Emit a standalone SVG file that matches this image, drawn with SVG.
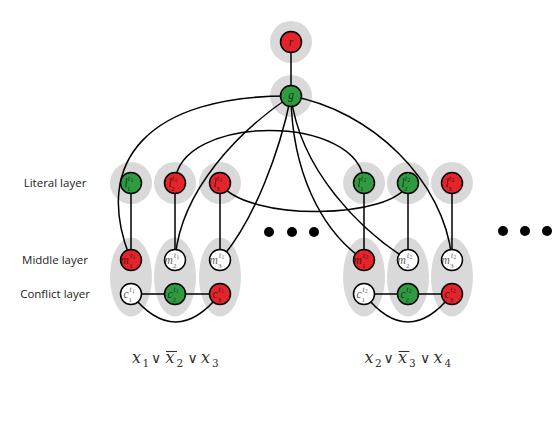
<svg xmlns="http://www.w3.org/2000/svg" width="554" height="422" viewBox="0 0 554 422">
<style>
.halo{fill:#d9d9d9}
.n{stroke:#000;stroke-width:1.5}
.red{fill:#e3242b}
.grn{fill:#2f9a3f}
.wht{fill:#fff}
.e{fill:none;stroke:#000;stroke-width:1.5}
.lb{font-family:"Liberation Serif",serif;font-style:italic;font-size:11.5px;fill:#000;fill-opacity:.68}
.s{font-size:7.5px}
.ss{font-size:5.5px;font-style:normal}
.sb{font-size:7px;font-style:normal}
.lay{font-family:"Open Sans","Noto Sans",sans-serif;font-size:11.5px;fill:#222;text-anchor:middle}
.f{font-family:"DejaVu Serif",serif;fill:#333}
.fx{font-style:italic;font-size:16px}
.fd{font-size:10.5px}
.fo{font-family:"DejaVu Sans",sans-serif;font-size:14px}
.ov{stroke:#333;stroke-width:1.1}
.dot{fill:#000}
</style>
<rect width="554" height="422" fill="#fff"/>
<g id="halos">
<circle class="halo" cx="291" cy="42" r="21"/>
<circle class="halo" cx="291" cy="96" r="21"/>
<circle class="halo" cx="131" cy="183" r="21"/>
<circle class="halo" cx="175" cy="183" r="21"/>
<circle class="halo" cx="220" cy="183" r="21"/>
<circle class="halo" cx="364" cy="183" r="21"/>
<circle class="halo" cx="408" cy="183" r="21"/>
<circle class="halo" cx="452" cy="183" r="21"/>
<ellipse class="halo" cx="131" cy="277" rx="21" ry="39.5"/>
<ellipse class="halo" cx="175" cy="277" rx="21" ry="39.5"/>
<ellipse class="halo" cx="220" cy="277" rx="21" ry="39.5"/>
<ellipse class="halo" cx="364" cy="277" rx="21" ry="39.5"/>
<ellipse class="halo" cx="408" cy="277" rx="21" ry="39.5"/>
<ellipse class="halo" cx="452" cy="277" rx="21" ry="39.5"/>
</g>
<g id="connectors">
<path class="e" d="M291,42 L291,96"/>
<path class="e" d="M131,183 L131,260 M175,183 L175,260 M220,183 L220,260"/>
<path class="e" d="M364,183 L364,260 M408,183 L408,260 M452,183 L452,260"/>
<path class="e" d="M131,294 L220,294 M364,294 L452,294"/>
<path class="e" d="M131,294 Q175.5,350 220,294"/>
<path class="e" d="M364,294 Q408,350 452,294"/>
<path class="e" d="M291,96 C150,95 90,160 131,260"/>
<path class="e" d="M291,96 C240,130 180,190 175,260"/>
<path class="e" d="M291,96 C280,150 255,220 220,260"/>
<path class="e" d="M291,96 C292,170 320,230 364,260"/>
<path class="e" d="M291,96 C300,170 360,230 408,260"/>
<path class="e" d="M291,96 C370,110 445,180 452,260"/>
<path class="e" d="M175,183 C178,113 361,113 364,183"/>
<path class="e" d="M220,183 C245,222 395,220 408,183"/>
</g>
<g id="r"><circle class="n red" cx="291" cy="42" r="10.5"/><text class="lb" x="291" y="46" text-anchor="middle">r</text></g>
<g id="g"><circle class="n grn" cx="291" cy="96" r="10.5"/><text class="lb" x="291" y="99" text-anchor="middle">g</text></g>

<g id="l1_t1"><circle class="n grn" cx="131" cy="183" r="10.5"/><text class="lb"><tspan x="124.5" y="186.5">l</tspan><tspan class="s" x="128" y="180.5">t</tspan><tspan class="ss" x="130.5" y="182">1</tspan><tspan class="sb" x="127" y="190.5">1</tspan></text></g>
<g id="l2_t1"><circle class="n red" cx="175" cy="183" r="10.5"/><text class="lb"><tspan x="168.5" y="186.5">l</tspan><tspan class="s" x="172" y="180.5">t</tspan><tspan class="ss" x="174.5" y="182">1</tspan><tspan class="sb" x="171" y="190.5">2</tspan></text></g>
<g id="l3_t1"><circle class="n red" cx="220" cy="183" r="10.5"/><text class="lb"><tspan x="213.5" y="186.5">l</tspan><tspan class="s" x="217" y="180.5">t</tspan><tspan class="ss" x="219.5" y="182">1</tspan><tspan class="sb" x="216" y="190.5">3</tspan></text></g>
<g id="m1_t1"><circle class="n red" cx="131" cy="260" r="10.5"/><text class="lb"><tspan x="120.5" y="263.5">m</tspan><tspan class="s" x="130" y="257.5">t</tspan><tspan class="ss" x="132.5" y="259">1</tspan><tspan class="sb" x="129" y="267.5">1</tspan></text></g>
<g id="m2_t1"><circle class="n wht" cx="175" cy="260" r="10.5"/><text class="lb"><tspan x="164.5" y="263.5">m</tspan><tspan class="s" x="174" y="257.5">t</tspan><tspan class="ss" x="176.5" y="259">1</tspan><tspan class="sb" x="173" y="267.5">2</tspan></text></g>
<g id="m3_t1"><circle class="n wht" cx="220" cy="260" r="10.5"/><text class="lb"><tspan x="209.5" y="263.5">m</tspan><tspan class="s" x="219" y="257.5">t</tspan><tspan class="ss" x="221.5" y="259">1</tspan><tspan class="sb" x="218" y="267.5">3</tspan></text></g>
<g id="c1_t1"><circle class="n wht" cx="131" cy="294" r="10.5"/><text class="lb"><tspan x="123.5" y="297.5">c</tspan><tspan class="s" x="129.5" y="291.5">t</tspan><tspan class="ss" x="132" y="293">1</tspan><tspan class="sb" x="128.5" y="301.5">1</tspan></text></g>
<g id="c2_t1"><circle class="n grn" cx="175" cy="294" r="10.5"/><text class="lb"><tspan x="167.5" y="297.5">c</tspan><tspan class="s" x="173.5" y="291.5">t</tspan><tspan class="ss" x="176" y="293">1</tspan><tspan class="sb" x="172.5" y="301.5">2</tspan></text></g>
<g id="c3_t1"><circle class="n red" cx="220" cy="294" r="10.5"/><text class="lb"><tspan x="212.5" y="297.5">c</tspan><tspan class="s" x="218.5" y="291.5">t</tspan><tspan class="ss" x="221" y="293">1</tspan><tspan class="sb" x="217.5" y="301.5">3</tspan></text></g>

<g id="l1_t2"><circle class="n grn" cx="364" cy="183" r="10.5"/><text class="lb"><tspan x="357.5" y="186.5">l</tspan><tspan class="s" x="361" y="180.5">t</tspan><tspan class="ss" x="363.5" y="182">2</tspan><tspan class="sb" x="360" y="190.5">1</tspan></text></g>
<g id="l2_t2"><circle class="n grn" cx="408" cy="183" r="10.5"/><text class="lb"><tspan x="401.5" y="186.5">l</tspan><tspan class="s" x="405" y="180.5">t</tspan><tspan class="ss" x="407.5" y="182">2</tspan><tspan class="sb" x="404" y="190.5">2</tspan></text></g>
<g id="l3_t2"><circle class="n red" cx="452" cy="183" r="10.5"/><text class="lb"><tspan x="445.5" y="186.5">l</tspan><tspan class="s" x="449" y="180.5">t</tspan><tspan class="ss" x="451.5" y="182">2</tspan><tspan class="sb" x="448" y="190.5">3</tspan></text></g>
<g id="m1_t2"><circle class="n red" cx="364" cy="260" r="10.5"/><text class="lb"><tspan x="353.5" y="263.5">m</tspan><tspan class="s" x="363" y="257.5">t</tspan><tspan class="ss" x="365.5" y="259">2</tspan><tspan class="sb" x="362" y="267.5">1</tspan></text></g>
<g id="m2_t2"><circle class="n wht" cx="408" cy="260" r="10.5"/><text class="lb"><tspan x="397.5" y="263.5">m</tspan><tspan class="s" x="407" y="257.5">t</tspan><tspan class="ss" x="409.5" y="259">2</tspan><tspan class="sb" x="406" y="267.5">2</tspan></text></g>
<g id="m3_t2"><circle class="n wht" cx="452" cy="260" r="10.5"/><text class="lb"><tspan x="441.5" y="263.5">m</tspan><tspan class="s" x="451" y="257.5">t</tspan><tspan class="ss" x="453.5" y="259">2</tspan><tspan class="sb" x="450" y="267.5">3</tspan></text></g>
<g id="c1_t2"><circle class="n wht" cx="364" cy="294" r="10.5"/><text class="lb"><tspan x="356.5" y="297.5">c</tspan><tspan class="s" x="362.5" y="291.5">t</tspan><tspan class="ss" x="365" y="293">2</tspan><tspan class="sb" x="361.5" y="301.5">1</tspan></text></g>
<g id="c2_t2"><circle class="n grn" cx="408" cy="294" r="10.5"/><text class="lb"><tspan x="400.5" y="297.5">c</tspan><tspan class="s" x="406.5" y="291.5">t</tspan><tspan class="ss" x="409" y="293">2</tspan><tspan class="sb" x="405.5" y="301.5">2</tspan></text></g>
<g id="c3_t2"><circle class="n red" cx="452" cy="294" r="10.5"/><text class="lb"><tspan x="444.5" y="297.5">c</tspan><tspan class="s" x="450.5" y="291.5">t</tspan><tspan class="ss" x="453" y="293">2</tspan><tspan class="sb" x="449.5" y="301.5">3</tspan></text></g>

<g id="dots">
<circle class="dot" cx="269" cy="232" r="5"/>
<circle class="dot" cx="292" cy="232" r="5"/>
<circle class="dot" cx="314" cy="232" r="5"/>
<circle class="dot" cx="503" cy="231" r="5"/>
<circle class="dot" cx="525" cy="231" r="5"/>
<circle class="dot" cx="547" cy="231" r="5"/>
</g>
<g id="layers">
<text class="lay" x="55" y="187">Literal layer</text>
<text class="lay" x="55" y="264">Middle layer</text>
<text class="lay" x="55" y="298">Conflict layer</text>
</g>
<g id="clauses">
<text class="f"><tspan class="fx" x="132" y="363">x</tspan><tspan class="fd" x="142.5" y="366.5">1</tspan><tspan class="fo" x="151" y="363">∨</tspan><tspan class="fx" x="165.5" y="363">x</tspan><tspan class="fd" x="176.5" y="366.5">2</tspan><tspan class="fo" x="187.5" y="363">∨</tspan><tspan class="fx" x="201" y="363">x</tspan><tspan class="fd" x="212" y="366.5">3</tspan></text>
<line class="ov" x1="166" y1="351.5" x2="177" y2="351.5"/>
<text class="f"><tspan class="fx" x="364.5" y="363">x</tspan><tspan class="fd" x="375" y="366.5">2</tspan><tspan class="fo" x="383.5" y="363">∨</tspan><tspan class="fx" x="398" y="363">x</tspan><tspan class="fd" x="409" y="366.5">3</tspan><tspan class="fo" x="420" y="363">∨</tspan><tspan class="fx" x="433.5" y="363">x</tspan><tspan class="fd" x="444.5" y="366.5">4</tspan></text>
<line class="ov" x1="398.5" y1="351.5" x2="409.5" y2="351.5"/>
</g>
</svg>
